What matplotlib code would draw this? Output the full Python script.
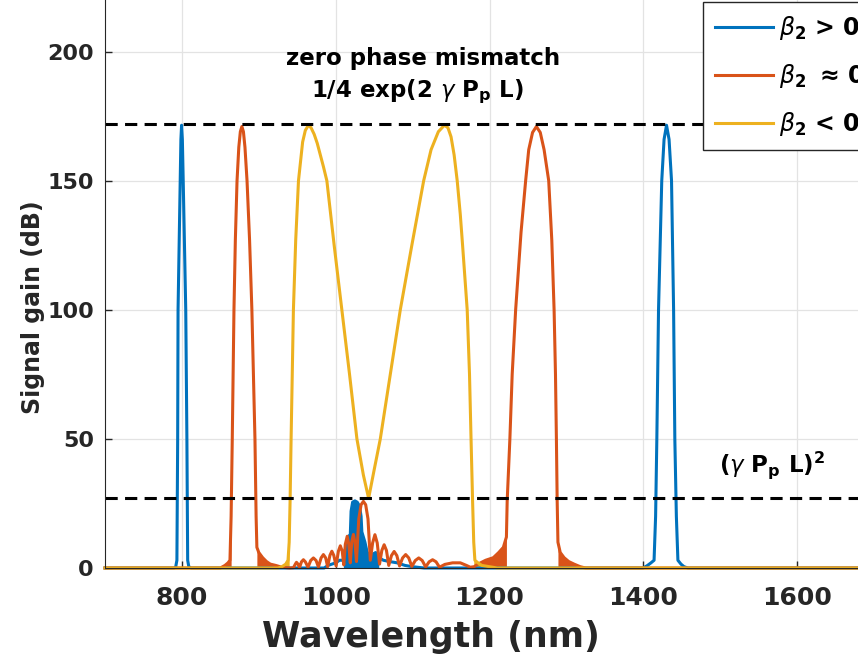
import matplotlib
matplotlib.use("Agg")
import matplotlib.pyplot as plt
import numpy as np

plt.rcParams['font.family'] = ['DejaVu Sans']
plt.rcParams['font.weight'] = 'bold'
plt.rcParams['mathtext.fontset'] = 'custom'
plt.rcParams['mathtext.it'] = 'DejaVu Sans:italic:normal'
plt.rcParams['mathtext.rm'] = 'DejaVu Sans:bold'
plt.rcParams['mathtext.bf'] = 'DejaVu Sans:bold'

# wavelength (nm) / gain (dB)
wl_pos = [700, 790, 792, 793.5, 794.5, 795, 797.8, 798.7, 799.6, 800.6, 801.7, 805, 806.5,
          807.5, 809, 812,
          985, 990, 1000, 1005, 1010, 1013, 1016, 1019, 1020, 1022, 1025, 1028, 1031, 1033,
          1034, 1036, 1038, 1041, 1046, 1052, 1056, 1062, 1070, 1080, 1090, 1100, 1115,
          1400, 1405.5, 1410, 1414, 1416, 1417.6, 1419.8, 1424, 1427, 1430.2, 1433.5,
          1436.7, 1439.4, 1441, 1443, 1445, 1449, 1453, 1458, 1700]
g_pos = [0, 0, 0.5, 3, 50, 100, 150, 166, 171.5, 166, 150, 100, 50,
         3, 0.5, 0,
         0, 1, 2, 3, 3, 8, 12, 13, 22, 25.5, 26, 25.5, 24, 20,
         14, 12, 10, 6, 5, 6, 4, 3, 2.5, 2, 1, 0.5, 0,
         0, 1, 2, 3, 20, 50, 100, 150, 166, 171.5, 166,
         150, 100, 50, 20, 3, 1.5, 0.5, 0, 0]

wl_zero = [700, 850, 856, 860, 862.5, 864, 865.5, 867.7, 869.5, 871.7, 874, 876, 878, 880,
           882, 884.7, 888, 891, 895, 896.5, 897.5, 900, 905, 910, 915, 922, 930, 940,
           945, 947.5, 949, 951, 953, 955.5, 958, 960.5, 964, 967.5, 971, 974.5, 977.5,
           981, 984, 987, 989.5, 992.5, 995, 997.5, 1000.5, 1003.5, 1006, 1008.5, 1010.5,
           1012.5, 1015, 1017, 1019, 1020.8, 1023, 1025, 1027, 1030, 1033, 1036, 1039,
           1042, 1045, 1048, 1051, 1054, 1057, 1060, 1063, 1066, 1069, 1072.5, 1076,
           1079.5, 1083, 1087, 1091, 1095, 1099, 1103.5, 1108, 1112.5, 1117, 1121.5,
           1126, 1130.5, 1135, 1142, 1152, 1162, 1170, 1175,
           1180, 1185, 1195, 1205, 1212, 1218, 1222,
           1223, 1226.5, 1229.5, 1234, 1241, 1247, 1251, 1256, 1261, 1266, 1271, 1277,
           1281, 1284, 1285.8, 1287, 1288, 1289,
           1292, 1297, 1303, 1310, 1318, 1325, 1700]
g_zero = [0, 0, 1, 2, 3, 20, 50, 100, 127, 150, 163, 169, 171, 169,
          163, 150, 127, 100, 50, 20, 8, 6, 4, 2.5, 1.5, 1, 0.3, 0,
          0.1, 1.5, 2.2, 1.5, 0.2, 2.4, 3.2, 2.4, 0.3, 2.9, 3.9, 2.9, 0.4,
          3.9, 5.2, 3.9, 0.5, 4.9, 6.5, 4.9, 0.8, 6.5, 8.6, 6.5, 1.2,
          9.2, 12.3, 9.2, 2, 10, 13, 10, 2.5, 19, 24.5, 25.8, 24.5,
          19, 3, 9.7, 12.9, 9.7, 1.5, 6.8, 9, 6.8, 1, 4.8, 6.4,
          4.8, 0.8, 3.9, 5.2, 3.9, 0.6, 2.9, 3.9, 2.9, 0.4, 2.4,
          3.2, 2.4, 0.3, 1.4, 2, 2, 1, 0.3,
          0.5, 1.5, 3, 4, 6, 8, 12,
          26, 50, 75, 100, 130, 150, 162, 168.7, 171, 168.7, 162, 150,
          127, 100, 75, 50, 26, 10,
          6, 4, 2.5, 1.5, 0.5, 0, 0]

wl_neg = [700, 925, 930, 935, 938, 939.5, 940.7, 942, 945, 948, 951.6, 957, 960.5, 964.6,
          968, 972, 976, 980, 984, 988.5, 998, 1008, 1018, 1027.6, 1036, 1042.8, 1050,
          1058, 1071, 1084, 1099, 1114.4, 1124, 1133.5, 1141.4, 1146, 1150, 1154, 1158,
          1162, 1165, 1171, 1174, 1176, 1178, 1179.5, 1181, 1185, 1190, 1200, 1210, 1700]
g_neg = [0, 0, 0.5, 1.5, 3, 10, 26, 50, 100, 127, 150, 165, 169.5, 171.5,
         170.5, 168, 164.5, 160, 155.5, 150, 125, 100, 75, 50, 36, 27, 38,
         50, 75, 100, 125, 150, 162, 169, 171.5, 170.5, 167, 160, 150,
         137, 125, 100, 75, 50, 26, 10, 3, 2, 1, 0.5, 0, 0]

# noisy shoulders drawn as filled areas
fill_pos = [(1010, 1060)]
fill_zero = [(855, 864), (897, 930), (1184, 1222), (1289, 1320)]
fill_neg = [(928, 940), (1179, 1205)]

phase_match_db = 172
low_gain_db = 27

labels = [r"$\beta_{\mathbf{2}}$ > 0", r"$\beta_{\mathbf{2}}$ $\approx\,$0", r"$\beta_{\mathbf{2}}$ < 0"]
colors = ['#0072BD', '#D95319', '#EDB120']

fig = plt.figure(figsize=(8.58, 6.61), dpi=100)
ax = fig.add_axes([105/858, 93/661, (874-105)/858, 568/661])

series = [(wl_pos, g_pos, fill_pos), (wl_zero, g_zero, fill_zero), (wl_neg, g_neg, fill_neg)]
handles = []
for (x, y, fills), c, lab in zip(series, colors, labels):
    x = np.array(x)
    y = np.array(y)
    for lo, hi in fills:
        m = (x >= lo) & (x <= hi)
        ax.fill_between(x[m], 0, y[m], color=c, lw=0)
    h, = ax.plot(x, y, color=c, lw=2.2, label=lab, clip_on=False, solid_joinstyle='round')
    handles.append(h)

ax.axhline(phase_match_db, color='k', lw=2.2, dashes=(4, 2.4))
ax.axhline(low_gain_db, color='k', lw=2.2, dashes=(4, 2.4))

ax.set_xlim(700, 1700)
ax.set_ylim(0, 220)
ax.set_xticks([800, 1000, 1200, 1400, 1600])
ax.set_yticks([0, 50, 100, 150, 200])
ax.grid(True, color='#e3e3e3', lw=0.9)
ax.set_axisbelow(True)
ax.tick_params(direction='in', length=5, width=1, colors='#262626')
ax.tick_params(axis='x', labelsize=18, pad=13)
ax.tick_params(axis='y', labelsize=16, pad=8)
for s in ['top', 'right']:
    ax.spines[s].set_visible(False)
for s in ['left', 'bottom']:
    ax.spines[s].set_color('#262626')
ax.set_xlabel('Wavelength (nm)', fontsize=25, fontweight='bold', color='#262626')
ax.xaxis.set_label_coords(0.424, -0.092)
ax.set_ylabel('Signal gain (dB)', fontsize=17, fontweight='bold', color='#262626')
ax.yaxis.set_label_coords(-0.078, 0.46)

ax.text(1114, 197.5, 'zero phase mismatch', ha='center', va='center', fontsize=16.5,
        fontweight='bold')
ax.text(1106, 184.5, r'1/4 exp(2 $\gamma$ P$_{\mathbf{p}}$ L)', ha='center', va='center',
        fontsize=16.5, fontweight='bold')
ax.text(1567, 40, r'($\gamma$ P$_{\mathbf{p}}$ L)$^{\mathbf{2}}$', ha='center', va='center',
        fontsize=16.5, fontweight='bold')

leg = fig.legend(handles=handles, loc='upper left', bbox_to_anchor=(703/858, 1 - 2/661),
                 fontsize=17, handlelength=2.45, labelspacing=0.85, borderpad=0.5,
                 handletextpad=0.25, borderaxespad=0, fancybox=False, framealpha=1,
                 edgecolor='#262626')
leg.get_frame().set_linewidth(1.0)

fig.savefig('out.png', dpi=100)
